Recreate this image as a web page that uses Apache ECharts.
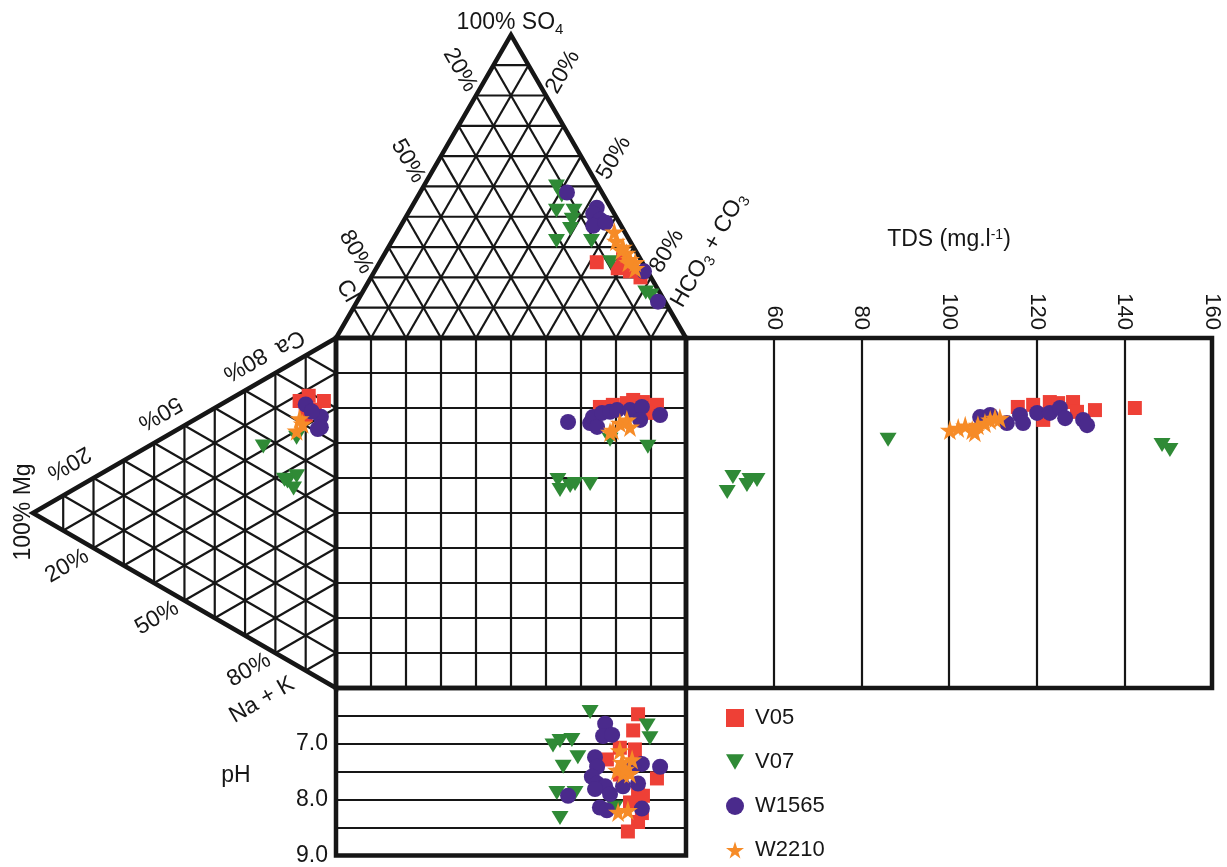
<!DOCTYPE html>
<html>
<head>
<meta charset="utf-8">
<title>Durov diagram</title>
<script src="https://cdn.jsdelivr.net/npm/echarts@6/dist/echarts.min.js"></script>
<style>
  html, body { margin: 0; padding: 0; background: #fff; }
  #chart { width: 1227px; height: 867px; }
</style>
</head>
<body>
<div id="chart"></div>
<script>
var seriesNames = ['V05', 'V07', 'W1565', 'W2210'];

// anion triangle, [SO4, Cl, HCO3+CO3] in %
var anionV05 = [[25, 13, 62], [23, 8, 69], [22, 5, 73], [20, 3, 77], [26, 5, 69]];
var anionV07 = [[50, 12, 38], [47, 12, 41], [42, 16, 42], [42, 11, 47], [39, 13, 48], [36, 15, 49],
  [32, 21, 47], [32, 11, 57], [25, 9, 66], [15, 4, 81], [14, 3, 83]];
var anionW1565 = [[48, 10, 42], [43, 4, 53], [41, 6, 53], [39, 5, 56], [37, 8, 55], [38, 4, 58], [22, 1, 77], [12, 2, 86]];
var anionW2210 = [[35, 3, 62], [32, 4, 64], [30, 3, 67], [28, 3, 69], [26, 3, 71], [25, 2, 73], [29, 4, 67], [25, 4, 71], [23, 3, 74]];

// cation triangle, [Ca, Mg, Na+K] in %
var cationV05 = [[76, 12, 12], [79, 9, 12], [80, 4, 16], [76, 7, 17], [73, 10, 17]];
var cationV07 = [[57, 24, 19], [65, 13, 22], [51, 16, 33], [50, 14, 36], [54, 13, 33], [51, 17, 32]];
var cationW1565 = [[76, 10, 14], [75, 5, 20], [72, 5, 23], [71, 6, 23], [75, 8, 17]];
var cationW2210 = [[71, 12, 17], [67, 13, 20], [70, 11, 19]];

// central square, [anion projection %, cation projection %]
var squareV05 = [[75.4, 19.7], [79.1, 19.1], [83.1, 18.6], [84.9, 17.7], [87.7, 18.3], [91.7, 19.1], [88.9, 21.4]];
var squareV07 = [[78.3, 29.1], [89.1, 31.1], [63.4, 40.6], [64.0, 43.4], [66.9, 42.3], [68.3, 41.7], [72.6, 41.7]];
var squareW1565 = [[66.3, 24.0], [72.6, 24.3], [73.4, 22.6], [74.6, 25.4], [76.0, 21.4], [78.3, 21.1],
  [80.3, 20.6], [84.0, 20.6], [87.4, 19.7], [86.9, 23.4], [92.6, 22.0]];
var squareW2210 = [[81.1, 24.3], [79.1, 26.3], [83.1, 23.4], [78.3, 26.9], [84.0, 25.4]];

// TDS panel, [TDS mg/l, cation projection %]
var tdsV05 = [[115.7, 19.7], [119.2, 19.1], [123.0, 18.3], [124.9, 18.6], [128.3, 18.3], [129.2, 21.1],
  [133.3, 20.6], [142.4, 20.0], [121.5, 23.4]];
var tdsV07 = [[50.7, 39.7], [49.4, 44.0], [54.6, 40.6], [56.2, 40.6], [53.9, 42.0], [86.1, 29.1], [148.6, 30.6], [150.4, 32.0]];
var tdsW1565 = [[107.1, 22.6], [109.4, 22.0], [113.2, 24.3], [116.2, 22.0], [116.9, 24.3], [120.1, 21.4],
  [123.0, 21.4], [125.3, 20.0], [126.5, 22.9], [130.6, 23.4], [131.5, 24.9]];
var tdsW2210 = [[100.2, 26.3], [102.1, 25.7], [103.7, 25.1], [105.3, 26.3], [106.6, 24.9], [108.2, 24.3],
  [109.4, 23.4], [110.5, 22.9], [105.9, 26.9], [111.6, 22.9]];

// pH panel, [anion projection %, pH]
var phV05 = [[86.3, 6.47], [84.9, 6.76], [81.1, 7.07], [85.4, 7.10], [77.4, 7.28], [91.7, 7.62], [86.3, 7.81],
  [87.7, 7.93], [84.0, 8.05], [87.4, 8.24], [86.3, 8.40], [83.4, 8.57], [85.4, 7.33], [81.1, 7.55]];
var phV07 = [[72.6, 6.43], [88.9, 6.67], [89.7, 6.90], [62.0, 7.03], [64.0, 6.95], [67.4, 6.93], [69.1, 7.24],
  [64.9, 7.41], [63.1, 7.88], [68.3, 7.88], [64.0, 8.33], [79.7, 8.14]];
var phW1565 = [[76.9, 6.64], [76.3, 6.86], [78.9, 6.84], [74.0, 7.24], [74.6, 7.41], [73.1, 7.59], [74.6, 7.71],
  [76.9, 7.76], [74.0, 7.81], [78.3, 7.90], [66.3, 7.93], [75.4, 8.14], [77.4, 8.19], [87.4, 7.36],
  [92.6, 7.41], [86.3, 7.71], [82.0, 7.76], [87.4, 8.16], [84.9, 7.41]];
var phW2210 = [[81.1, 7.12], [82.0, 7.53], [80.3, 7.47], [84.0, 7.53], [80.6, 8.22], [83.4, 8.19], [81.7, 7.33],
  [82.6, 7.45], [84.6, 7.28]];

var ink = '#161616';
var font = 'Liberation Sans, Arial, sans-serif';
var STAR = 'path://M50,0L61,35L98,35L68,57L79,91L50,70L21,91L32,57L2,35L39,35Z';
var DOWN = 'path://M0,0L20,0L10,17Z';

var styles = {
  V05: { color: '#ee4036', symbol: 'rect', size: 14 },
  V07: { color: '#2f8a36', symbol: DOWN, size: [17, 14] },
  W1565: { color: '#4a2a8c', symbol: 'circle', size: 16 },
  W2210: { color: '#f68b27', symbol: STAR, size: 20 }
};

// ternary -> diagram units (square side = 100, y grows downward)
var H = 50 * Math.sqrt(3);
function anionXY(p) { return [p[2] + p[0] / 2, -p[0] * H / 100]; }
function cationXY(p) { return [-p[1] * H / 100, p[1] / 2 + p[2]]; }

function triSegments(toXY) {
  var segs = [];
  for (var k = 10; k < 100; k += 10) {
    var g = 100 - k;
    segs.push([toXY([k, g, 0]), toXY([k, 0, g])]);
    segs.push([toXY([g, k, 0]), toXY([0, k, g])]);
    segs.push([toXY([g, 0, k]), toXY([0, g, k])]);
  }
  return segs;
}
var innerSegs = triSegments(anionXY).concat(triSegments(cationXY));
var outlines = [
  [anionXY([100, 0, 0]), anionXY([0, 100, 0]), anionXY([0, 0, 100])],
  [cationXY([100, 0, 0]), cationXY([0, 100, 0]), cationXY([0, 0, 100])]
];

var panels = {
  V05: [anionV05.map(anionXY), cationV05.map(cationXY), squareV05, tdsV05, phV05],
  V07: [anionV07.map(anionXY), cationV07.map(cationXY), squareV07, tdsV07, phV07],
  W1565: [anionW1565.map(anionXY), cationW1565.map(cationXY), squareW1565, tdsW1565, phW1565],
  W2210: [anionW2210.map(anionXY), cationW2210.map(cationXY), squareW2210, tdsW2210, phW2210]
};
var panelGrid = [0, 0, 1, 2, 3];

var series = [{
  type: 'custom',
  xAxisIndex: 0,
  yAxisIndex: 0,
  silent: true,
  clip: false,
  data: [[0, 0]],
  renderItem: function (params, api) {
    var children = innerSegs.map(function (s) {
      var a = api.coord(s[0]), b = api.coord(s[1]);
      return { type: 'line', shape: { x1: a[0], y1: a[1], x2: b[0], y2: b[1] }, style: { stroke: ink, lineWidth: 2.2 } };
    });
    outlines.forEach(function (o) {
      children.push({
        type: 'polygon',
        shape: { points: o.map(function (p) { return api.coord(p); }) },
        style: { fill: 'none', stroke: ink, lineWidth: 4.5, lineJoin: 'miter' }
      });
    });
    return { type: 'group', children: children };
  }
}];

seriesNames.forEach(function (name) {
  var st = styles[name];
  panels[name].forEach(function (data, i) {
    series.push({
      type: 'scatter',
      name: name,
      xAxisIndex: panelGrid[i],
      yAxisIndex: panelGrid[i],
      data: data,
      symbol: st.symbol,
      symbolSize: st.size,
      itemStyle: { color: st.color, opacity: 1 },
      clip: false,
      silent: true
    });
  });
});

function txt(text, x, y, rot, size) {
  return {
    type: 'text', x: x, y: y, rotation: rot || 0, silent: true,
    style: {
      text: text, fontSize: size || 23, fontFamily: font, fill: ink,
      align: 'center', verticalAlign: 'middle',
      rich: { sub: { fontSize: 15, fontFamily: font, fill: ink, padding: [13, 0, 0, 0] } }
    }
  };
}
var P = Math.PI;

var splitStyle = { show: true, lineStyle: { color: ink, width: 2.2 } };

var chart = echarts.init(document.getElementById('chart'), null, { renderer: 'canvas' });
chart.setOption({
  animation: false,
  textStyle: { fontFamily: font },
  grid: [
    { left: 336 - 3.5 * H, top: 338 - 3.5 * H, width: 3.5 * (100 + H), height: 3.5 * (100 + H), show: false },
    { left: 336, top: 338, width: 350, height: 350, show: true, borderColor: ink, borderWidth: 4.5 },
    { left: 686, top: 338, width: 526, height: 350, show: true, borderColor: ink, borderWidth: 4.5 },
    { left: 336, top: 688, width: 350, height: 174, show: true, borderColor: ink, borderWidth: 4.5 }
  ],
  xAxis: [
    { gridIndex: 0, type: 'value', min: -H, max: 100, show: false },
    { gridIndex: 1, type: 'value', min: 0, max: 100, interval: 10,
      axisLine: { show: false }, axisTick: { show: false }, axisLabel: { show: false }, splitLine: splitStyle },
    { gridIndex: 2, type: 'value', min: 40, max: 160, interval: 20, position: 'top',
      axisLine: { show: false }, axisTick: { show: false },
      axisLabel: { rotate: -90, margin: 8, fontSize: 22, color: ink, showMinLabel: false },
      splitLine: splitStyle,
      name: 'TDS (mg.l{sup|-1})', nameLocation: 'middle', nameGap: 86,
      nameTextStyle: { fontSize: 23, color: ink, rich: { sup: { fontSize: 14, color: ink, padding: [0, 0, 10, 0] } } } },
    { gridIndex: 3, type: 'value', min: 0, max: 100, show: false }
  ],
  yAxis: [
    { gridIndex: 0, type: 'value', min: -H, max: 100, inverse: true, show: false },
    { gridIndex: 1, type: 'value', min: 0, max: 100, interval: 10, inverse: true,
      axisLine: { show: false }, axisTick: { show: false }, axisLabel: { show: false }, splitLine: splitStyle },
    { gridIndex: 2, type: 'value', min: 0, max: 100, inverse: true, show: false },
    { gridIndex: 3, type: 'value', min: 6, max: 9, interval: 0.5, inverse: true,
      axisLine: { show: false }, axisTick: { show: false },
      axisLabel: { fontSize: 23, color: ink, margin: 8,
        formatter: function (v) { return (v % 1 === 0 && v !== 6) ? v.toFixed(1) : ''; } },
      splitLine: splitStyle }
  ],
  legend: {
    data: seriesNames,
    orient: 'vertical',
    left: 721,
    top: 702,
    itemWidth: 18,
    itemHeight: 18,
    itemGap: 22,
    selectedMode: false,
    textStyle: { fontSize: 22, color: ink, fontFamily: font, padding: [0, 0, 0, 6] }
  },
  graphic: [
    txt('100% SO{sub|4}', 510, 23, 0, 23),
    txt('20%', 460, 70, -P / 3),
    txt('50%', 408, 161, -P / 3),
    txt('80%', 356, 252, -P / 3),
    txt('Cl', 347, 291, -P / 3),
    txt('20%', 563, 72, P / 3),
    txt('50%', 614, 158, P / 3),
    txt('80%', 667, 251, P / 3),
    txt('HCO{sub|3} + CO{sub|3}', 709, 250, P / 3),
    txt('Ca', 290, 342, 7 * P / 6),
    txt('80%', 245, 364, 7 * P / 6),
    txt('50%', 160, 413, 7 * P / 6),
    txt('20%', 69, 463, 7 * P / 6),
    txt('100% Mg', 24, 512, P / 2),
    txt('20%', 67, 566, P / 6),
    txt('50%', 157, 618, P / 6),
    txt('80%', 249, 670, P / 6),
    txt('Na + K', 262, 700, P / 6),
    txt('pH', 236, 776, 0, 23)
  ],
  series: series
});

window.addEventListener('resize', function () { chart.resize(); });
</script>
</body>
</html>
